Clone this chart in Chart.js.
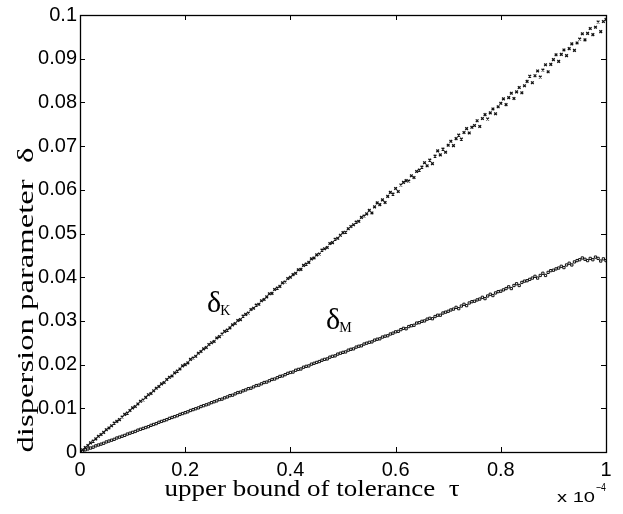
<!DOCTYPE html>
<html>
<head>
<meta charset="utf-8">
<script src="https://cdn.jsdelivr.net/npm/chart.js@4"></script>
<style>
  html, body { margin: 0; padding: 0; background: #fff; }
  #wrap { width: 623px; height: 514px; position: relative; }
</style>
</head>
<body>
<div id="wrap"><canvas id="chartCanvas"></canvas></div>
<script>
// tolerance tau (x 1e-4)
const tau = [
  0.000, 0.005, 0.010, 0.015, 0.020, 0.025, 0.030, 0.035, 0.040, 0.045,
  0.050, 0.055, 0.060, 0.065, 0.070, 0.075, 0.080, 0.085, 0.090, 0.095,
  0.100, 0.105, 0.110, 0.115, 0.120, 0.125, 0.130, 0.135, 0.140, 0.145,
  0.150, 0.155, 0.160, 0.165, 0.170, 0.175, 0.180, 0.185, 0.190, 0.195,
  0.200, 0.205, 0.210, 0.215, 0.220, 0.225, 0.230, 0.235, 0.240, 0.245,
  0.250, 0.255, 0.260, 0.265, 0.270, 0.275, 0.280, 0.285, 0.290, 0.295,
  0.300, 0.305, 0.310, 0.315, 0.320, 0.325, 0.330, 0.335, 0.340, 0.345,
  0.350, 0.355, 0.360, 0.365, 0.370, 0.375, 0.380, 0.385, 0.390, 0.395,
  0.400, 0.405, 0.410, 0.415, 0.420, 0.425, 0.430, 0.435, 0.440, 0.445,
  0.450, 0.455, 0.460, 0.465, 0.470, 0.475, 0.480, 0.485, 0.490, 0.495,
  0.500, 0.505, 0.510, 0.515, 0.520, 0.525, 0.530, 0.535, 0.540, 0.545,
  0.550, 0.555, 0.560, 0.565, 0.570, 0.575, 0.580, 0.585, 0.590, 0.595,
  0.600, 0.605, 0.610, 0.615, 0.620, 0.625, 0.630, 0.635, 0.640, 0.645,
  0.650, 0.655, 0.660, 0.665, 0.670, 0.675, 0.680, 0.685, 0.690, 0.695,
  0.700, 0.705, 0.710, 0.715, 0.720, 0.725, 0.730, 0.735, 0.740, 0.745,
  0.750, 0.755, 0.760, 0.765, 0.770, 0.775, 0.780, 0.785, 0.790, 0.795,
  0.800, 0.805, 0.810, 0.815, 0.820, 0.825, 0.830, 0.835, 0.840, 0.845,
  0.850, 0.855, 0.860, 0.865, 0.870, 0.875, 0.880, 0.885, 0.890, 0.895,
  0.900, 0.905, 0.910, 0.915, 0.920, 0.925, 0.930, 0.935, 0.940, 0.945,
  0.950, 0.955, 0.960, 0.965, 0.970, 0.975, 0.980, 0.985, 0.990, 0.995,
  1.000
];

// dispersion parameter delta_K
const deltaK = [
  0.0000, 0.0005, 0.0010, 0.0015, 0.0021, 0.0025, 0.0030, 0.0036, 0.0040, 0.0045,
  0.0051, 0.0055, 0.0060, 0.0066, 0.0070, 0.0074, 0.0080, 0.0086, 0.0089, 0.0095,
  0.0101, 0.0104, 0.0110, 0.0116, 0.0119, 0.0125, 0.0131, 0.0134, 0.0140, 0.0146,
  0.0150, 0.0156, 0.0159, 0.0166, 0.0171, 0.0174, 0.0181, 0.0185, 0.0190, 0.0197,
  0.0200, 0.0204, 0.0212, 0.0215, 0.0219, 0.0226, 0.0230, 0.0236, 0.0239, 0.0246,
  0.0250, 0.0253, 0.0261, 0.0264, 0.0270, 0.0276, 0.0279, 0.0284, 0.0291, 0.0294,
  0.0301, 0.0303, 0.0311, 0.0315, 0.0318, 0.0326, 0.0329, 0.0336, 0.0338, 0.0346,
  0.0349, 0.0355, 0.0362, 0.0363, 0.0372, 0.0375, 0.0379, 0.0387, 0.0389, 0.0397,
  0.0400, 0.0406, 0.0409, 0.0417, 0.0418, 0.0427, 0.0430, 0.0434, 0.0442, 0.0444,
  0.0451, 0.0453, 0.0462, 0.0465, 0.0468, 0.0477, 0.0479, 0.0487, 0.0489, 0.0496,
  0.0502, 0.0503, 0.0511, 0.0516, 0.0520, 0.0526, 0.0528, 0.0537, 0.0540, 0.0545,
  0.0553, 0.0547, 0.0561, 0.0570, 0.0566, 0.0577, 0.0571, 0.0585, 0.0594, 0.0590,
  0.0603, 0.0596, 0.0611, 0.0617, 0.0621, 0.0620, 0.0632, 0.0628, 0.0642, 0.0645,
  0.0652, 0.0662, 0.0655, 0.0668, 0.0660, 0.0677, 0.0689, 0.0680, 0.0693, 0.0686,
  0.0702, 0.0711, 0.0701, 0.0717, 0.0725, 0.0716, 0.0731, 0.0740, 0.0730, 0.0743,
  0.0747, 0.0758, 0.0745, 0.0763, 0.0772, 0.0762, 0.0776, 0.0785, 0.0774, 0.0790,
  0.0798, 0.0808, 0.0795, 0.0811, 0.0821, 0.0809, 0.0824, 0.0834, 0.0822, 0.0838,
  0.0848, 0.0860, 0.0845, 0.0861, 0.0872, 0.0858, 0.0874, 0.0886, 0.0870, 0.0887,
  0.0898, 0.0909, 0.0894, 0.0910, 0.0920, 0.0907, 0.0923, 0.0934, 0.0919, 0.0936,
  0.0945, 0.0957, 0.0943, 0.0958, 0.0969, 0.0955, 0.0972, 0.0984, 0.0962, 0.0985,
  0.0990
];

// dispersion parameter delta_M
const deltaM = [
  0.0000, 0.0002, 0.0005, 0.0007, 0.0009, 0.0011, 0.0014, 0.0016, 0.0018, 0.0020,
  0.0023, 0.0025, 0.0027, 0.0029, 0.0032, 0.0034, 0.0036, 0.0038, 0.0041, 0.0043,
  0.0045, 0.0047, 0.0050, 0.0052, 0.0054, 0.0056, 0.0058, 0.0061, 0.0063, 0.0065,
  0.0068, 0.0070, 0.0072, 0.0074, 0.0077, 0.0079, 0.0081, 0.0083, 0.0086, 0.0088,
  0.0090, 0.0092, 0.0095, 0.0097, 0.0099, 0.0101, 0.0104, 0.0106, 0.0108, 0.0110,
  0.0113, 0.0115, 0.0117, 0.0120, 0.0121, 0.0124, 0.0126, 0.0129, 0.0130, 0.0133,
  0.0136, 0.0137, 0.0140, 0.0142, 0.0145, 0.0146, 0.0149, 0.0152, 0.0153, 0.0156,
  0.0159, 0.0160, 0.0163, 0.0166, 0.0167, 0.0170, 0.0173, 0.0174, 0.0177, 0.0180,
  0.0182, 0.0183, 0.0187, 0.0189, 0.0190, 0.0194, 0.0196, 0.0197, 0.0201, 0.0203,
  0.0205, 0.0207, 0.0210, 0.0212, 0.0213, 0.0217, 0.0219, 0.0220, 0.0224, 0.0226,
  0.0228, 0.0229, 0.0233, 0.0235, 0.0236, 0.0240, 0.0242, 0.0243, 0.0247, 0.0249,
  0.0251, 0.0252, 0.0256, 0.0258, 0.0259, 0.0263, 0.0265, 0.0266, 0.0270, 0.0272,
  0.0275, 0.0276, 0.0280, 0.0283, 0.0282, 0.0287, 0.0289, 0.0290, 0.0295, 0.0296,
  0.0299, 0.0300, 0.0304, 0.0306, 0.0305, 0.0310, 0.0313, 0.0313, 0.0318, 0.0320,
  0.0322, 0.0325, 0.0327, 0.0331, 0.0328, 0.0334, 0.0338, 0.0335, 0.0341, 0.0344,
  0.0345, 0.0348, 0.0350, 0.0354, 0.0351, 0.0357, 0.0361, 0.0358, 0.0364, 0.0367,
  0.0368, 0.0371, 0.0374, 0.0378, 0.0374, 0.0381, 0.0385, 0.0381, 0.0388, 0.0391,
  0.0392, 0.0395, 0.0398, 0.0402, 0.0398, 0.0404, 0.0409, 0.0404, 0.0411, 0.0415,
  0.0416, 0.0419, 0.0421, 0.0425, 0.0422, 0.0428, 0.0432, 0.0428, 0.0435, 0.0438,
  0.0440, 0.0444, 0.0441, 0.0438, 0.0443, 0.0440, 0.0446, 0.0443, 0.0437, 0.0442,
  0.0438
];

const xTickLabels = ['0', '0.2', '0.4', '0.6', '0.8', '1'];
const yTickLabels = ['0', '0.01', '0.02', '0.03', '0.04', '0.05', '0.06', '0.07', '0.08', '0.09', '0.1'];

const toPoints = ys => tau.map((t, i) => ({ x: t, y: ys[i] }));

// text squeezed/stretched to a given width (the reference type is wide)
function fitText(ctx, txt, x, y, width) {
  const w = ctx.measureText(txt).width;
  ctx.save();
  ctx.translate(x, y);
  ctx.scale(width / w, 1);
  ctx.textAlign = 'center';
  ctx.fillText(txt, 0, 0);
  ctx.restore();
}

// matlab style frame: box, inward ticks on all four sides, labels
const matlabFrame = {
  id: 'matlabFrame',
  afterDraw(chart) {
    const { ctx, chartArea: a, scales } = chart;
    const tl = 5;
    ctx.save();
    ctx.strokeStyle = '#000';
    ctx.lineWidth = 1;
    ctx.beginPath();
    scales.x.ticks.forEach(t => {
      const px = Math.round(scales.x.getPixelForValue(t.value)) + 0.5;
      ctx.moveTo(px, a.bottom); ctx.lineTo(px, a.bottom - tl);
      ctx.moveTo(px, a.top); ctx.lineTo(px, a.top + tl);
    });
    scales.y.ticks.forEach(t => {
      const py = Math.round(scales.y.getPixelForValue(t.value)) + 0.5;
      ctx.moveTo(a.left, py); ctx.lineTo(a.left + tl, py);
      ctx.moveTo(a.right, py); ctx.lineTo(a.right - tl, py);
    });
    ctx.stroke();
    ctx.lineWidth = 1.3;
    ctx.strokeRect(Math.round(a.left) + 0.5, Math.round(a.top) + 0.5,
      Math.round(a.right - a.left), Math.round(a.bottom - a.top));

    ctx.fillStyle = '#000';
    ctx.textBaseline = 'alphabetic';
    // x title
    ctx.font = '23px "Liberation Serif", "Times New Roman", serif';
    fitText(ctx, 'upper bound of tolerance  \u03c4', 312, 496, 295);
    // y title
    ctx.save();
    ctx.translate(33, 300);
    ctx.rotate(-Math.PI / 2);
    fitText(ctx, 'dispersion parameter  \u03b4', 0, 0, 305);
    ctx.restore();

    // exponent
    ctx.font = '15px "Liberation Sans", Arial, sans-serif';
    fitText(ctx, 'x 10', 576, 502, 38);
    ctx.font = '11px "Liberation Sans", Arial, sans-serif';
    fitText(ctx, '\u22124', 601, 491, 10);

    // series labels
    const lab = (txt, sub, x, y) => {
      ctx.textAlign = 'left';
      ctx.font = '30px "Liberation Serif", "Times New Roman", serif';
      ctx.fillText(txt, x, y);
      const w = ctx.measureText(txt).width;
      ctx.font = '14px "Liberation Serif", "Times New Roman", serif';
      ctx.fillText(sub, x + w - 1, y + 3);
    };
    lab('\u03b4', 'K', 207, 312);
    lab('\u03b4', 'M', 326, 329);
    ctx.restore();
  }
};

const ctx = document.getElementById('chartCanvas').getContext('2d');
new Chart(ctx, {
  type: 'scatter',
  data: {
    datasets: [{
      label: 'deltaK',
      data: toPoints(deltaK),
      pointStyle: 'crossRot',
      pointRadius: 1.9,
      borderColor: '#111',
      borderWidth: 1.3,
      backgroundColor: '#111'
    }, {
      label: 'deltaM',
      data: toPoints(deltaM),
      pointStyle: 'rect',
      pointRadius: 1.6,
      borderColor: '#111',
      borderWidth: 1,
      backgroundColor: 'rgba(255,255,255,0)'
    }]
  },
  options: {
    responsive: true,
    maintainAspectRatio: false,
    animation: false,
    layout: { padding: { left: 0, top: 11, right: 17, bottom: 0 } },
    plugins: { legend: { display: false }, tooltip: { enabled: false } },
    scales: {
      x: {
        type: 'linear',
        min: 0, max: 1,
        afterFit: s => { s.height = 62; },
        grid: { display: false, drawTicks: false },
        border: { display: false },
        ticks: {
          stepSize: 0.2,
          padding: 6,
          color: '#000',
          maxRotation: 0,
          font: { family: '"Liberation Sans", Arial, sans-serif', size: 20 },
          callback: (v, i) => xTickLabels[i]
        }
      },
      y: {
        type: 'linear',
        min: 0, max: 0.1,
        afterFit: s => { s.width = 80; },
        grid: { display: false, drawTicks: false },
        border: { display: false },
        ticks: {
          stepSize: 0.01,
          padding: 3,
          color: '#000',
          font: { family: '"Liberation Sans", Arial, sans-serif', size: 20 },
          callback: (v, i) => yTickLabels[i]
        }
      }
    }
  },
  plugins: [matlabFrame]
});
</script>
</body>
</html>
